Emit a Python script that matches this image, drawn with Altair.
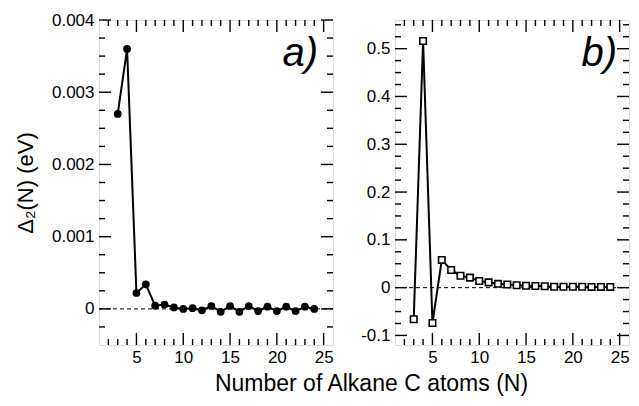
import altair as alt
import pandas as pd

FONT = "Liberation Sans"

# ---- data ----
N = list(range(3, 25))
delta_a = [0.00270, 0.00360, 0.00022, 0.00034, 0.000045, 0.00006, 0.00002, 0.00000,
           0.00001, -0.00002, 0.00004, -0.00004, 0.00004, -0.00004, 0.00004, -0.00003,
           0.00003, -0.00003, 0.00003, -0.00003, 0.00003, 0.00000]
delta_b = [-0.066, 0.516, -0.074, 0.058, 0.037, 0.025, 0.021, 0.014, 0.011, 0.008,
           0.0065, 0.005, 0.004, 0.0035, 0.003, 0.002, 0.002, 0.002, 0.002, 0.0015,
           0.0015, 0.0015]

x_domain = [1, 26]
x_major = [5, 10, 15, 20, 25]
x_minor = [v for v in range(2, 26) if v not in x_major]

ya_domain = [-0.0005, 0.004]
ya_major = [0, 0.001, 0.002, 0.003, 0.004]
ya_minor = [-0.00025, 0.00025, 0.0005, 0.00075, 0.00125, 0.0015, 0.00175,
            0.00225, 0.0025, 0.00275, 0.00325, 0.0035, 0.00375]

yb_domain = [-0.12, 0.56]
yb_major = [-0.1, 0, 0.1, 0.2, 0.3, 0.4, 0.5]
yb_minor = [-0.075, -0.05, -0.025, 0.025, 0.05, 0.075, 0.125, 0.15, 0.175,
            0.225, 0.25, 0.275, 0.325, 0.35, 0.375, 0.425, 0.45, 0.475, 0.525, 0.55]

X_TITLE = "Number of Alkane C atoms (N)"
Y_TITLE = "Δ₂(N) (eV)"

W, H = 234, 325
MAJ, MIN = 12, 6
LBL = 17


def panel(values, y_domain, y_major, y_minor, label, filled, ytitle, xtitle, label_dx):
    df = pd.DataFrame({"N": N, "d": values})
    xs = alt.Scale(domain=x_domain, nice=False, zero=False)
    ys = alt.Scale(domain=y_domain, nice=False, zero=False)
    if xtitle:
        xkw = dict(title=xtitle, titleFont=FONT, titleFontSize=23, titleFontWeight="normal",
                   titleColor="black", titleX=272, titleY=45, titleAlign="center",
                   titleBaseline="alphabetic")
    else:
        xkw = dict(title=None)
    xaxis = alt.Axis(values=x_major, ticks=False, domain=False, grid=False,
                     labelFont=FONT, labelFontSize=LBL, labelColor="black",
                     labelPadding=4, labelFlush=False, **xkw)
    if ytitle:
        ykw = dict(title=ytitle, titleFont=FONT, titleFontSize=22, titleFontWeight="normal",
                   titleColor="black", titlePadding=14)
    else:
        ykw = dict(title=None)
    yaxis = alt.Axis(values=y_major,
                     ticks=False, domain=False, grid=False,
                     labelFont=FONT, labelFontSize=LBL, labelColor="black",
                     labelPadding=5, labelExpr="'' + datum.value",
                     labelFlush=False, **ykw)

    def X(f):
        return alt.X(f, type="quantitative", scale=xs, axis=xaxis)

    def Y(f):
        return alt.Y(f, type="quantitative", scale=ys, axis=yaxis)

    layers = []
    # zero dashed line
    zero_df = pd.DataFrame({"z": [0.0]})
    layers.append(alt.Chart(zero_df).mark_rule(color="black", strokeWidth=1, strokeDash=[4, 3])
                  .encode(y=Y("z"), x=alt.value(0), x2=alt.value(W)))
    # inner ticks on all four sides
    for vals, ln in [(x_major, MAJ), (x_minor, MIN)]:
        tdf = pd.DataFrame({"t": vals})
        layers.append(alt.Chart(tdf).mark_rule(color="black", strokeWidth=1.4)
                      .encode(x=X("t"), y=alt.value(H), y2=alt.value(H - ln)))
        layers.append(alt.Chart(tdf).mark_rule(color="black", strokeWidth=1.4)
                      .encode(x=X("t"), y=alt.value(0), y2=alt.value(ln)))
    for vals, ln in [(y_major, MAJ), (y_minor, MIN)]:
        tdf = pd.DataFrame({"t": vals})
        layers.append(alt.Chart(tdf).mark_rule(color="black", strokeWidth=1.4)
                      .encode(y=Y("t"), x=alt.value(0), x2=alt.value(ln)))
        layers.append(alt.Chart(tdf).mark_rule(color="black", strokeWidth=1.4)
                      .encode(y=Y("t"), x=alt.value(W), x2=alt.value(W - ln)))
    # data line + markers
    base = alt.Chart(df).encode(x=X("N"), y=Y("d"))
    layers.append(base.mark_line(color="black", strokeWidth=2))
    if filled:
        layers.append(base.mark_circle(color="black", opacity=1, size=60))
    else:
        layers.append(base.mark_square(fill="white", stroke="black", strokeWidth=1.6,
                                       opacity=1, fillOpacity=1, size=42))
    # panel label
    layers.append(alt.Chart(pd.DataFrame({"lab": [label]})).mark_text(
        font=FONT, fontSize=40, fontStyle="italic", align="right", baseline="alphabetic",
        color="black").encode(text="lab:N", x=alt.value(W - label_dx), y=alt.value(46)))
    return alt.layer(*layers).properties(width=W, height=H)


left = panel(delta_a, ya_domain, ya_major, ya_minor, "a)", True, Y_TITLE, X_TITLE, 15)
right = panel(delta_b, yb_domain, yb_major, yb_minor, "b)", False, None, None, 12)

chart = alt.hconcat(left, right, spacing=62, bounds="flush").properties(
    padding={"left": 5, "top": 2, "right": 0, "bottom": 0},
).configure_view(stroke="black", strokeWidth=2).configure(background="white")

chart.save("out.html", embed_options={"renderer": "svg", "actions": False})
